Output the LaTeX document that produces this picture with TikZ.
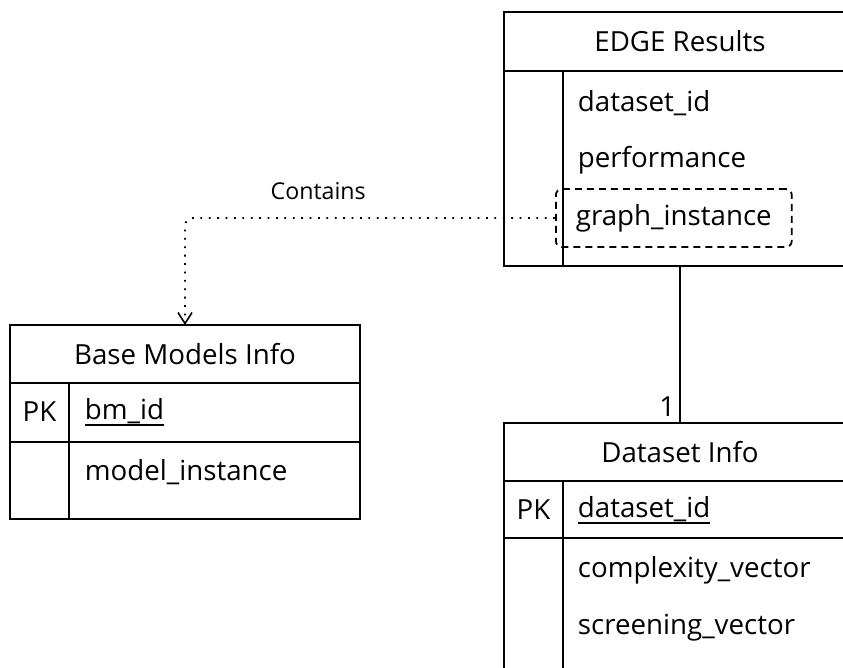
\documentclass[tikz,border=0pt]{standalone}
\usepackage{fontspec}
\setmainfont{Open Sans}
\usetikzlibrary{arrows.meta}
\newcommand\fieldfont{\fontsize{27.7}{32}\selectfont}
\newcommand\relfont{\fontsize{23.2}{27}\selectfont}
\newcommand\keyul[1]{\setbox0\hbox{#1}\rlap{\rule[-6.6pt]{\wd0}{1.7pt}}\box0}
\tikzset{
  tabhead/.style={draw, minimum width=352pt, minimum height=59pt, inner sep=0pt, outer sep=0pt},
  tabbody/.style={draw, minimum width=352pt, inner sep=0pt, outer sep=0pt},
  field/.style={anchor=west, inner sep=0pt},
  pkmark/.style={inner sep=0pt},
  keybox/.style={draw, dash pattern=on 7pt off 5pt, rounded corners=6pt},
  refline/.style={dash pattern=on 1.8pt off 6.6pt, rounded corners=8pt,
    -{Straight Barb[length=11pt,width=14pt,line width=1.6pt]}},
}
\begin{document}
\begin{tikzpicture}[x=1pt, y=-1pt, line width=1.8pt, every node/.style={font=\fieldfont}]
\clip (0,0) rectangle (843,667);
% EDGE Results
\node[tabhead] (edgehead) at (680,41.5) {EDGE Results};
\node[tabbody, minimum height=195pt, anchor=north] (edgebody) at (edgehead.south) {};
\draw ([xshift=59pt]edgebody.north west) -- ([xshift=59pt]edgebody.south west);
\node[field] (edgeds) at (577,103) {dataset\_id};
\node[field] (edgeperf) at (577,160) {performance};
\node[field, keybox, inner xsep=20pt, minimum height=58pt] (edgegi) at (555,218) {graph\_instance};
% Dataset Info
\node[tabhead, minimum height=58pt] (dshead) at (680,452) {Dataset Info};
\node[tabbody, minimum height=57pt, anchor=north] (dspk) at (dshead.south) {};
\node[tabbody, minimum height=200pt, anchor=north] (dsbody) at (dspk.south) {};
\draw ([xshift=59pt]dspk.north west) -- ([xshift=59pt]dsbody.south west);
\node[pkmark] (dspkl) at (533.5,509.5) {PK};
\node[field] (dsid) at (577,510) {\keyul{dataset\_id}};
\node[field] (dscv) at (577,570) {complexity\_vector};
\node[field] (dssv) at (577,628) {screening\_vector};
% Base Models Info
\node[tabhead, minimum width=350pt, minimum height=58pt] (bmhead) at (185,354) {Base Models Info};
\node[tabbody, minimum width=350pt, minimum height=59pt, anchor=north] (bmpk) at (bmhead.south) {};
\node[tabbody, minimum width=350pt, minimum height=77pt, anchor=north] (bmbody) at (bmpk.south) {};
\draw ([xshift=59pt]bmpk.north west) -- ([xshift=59pt]bmbody.south west);
\node[pkmark] (bmpkl) at (39.5,412) {PK};
\node[field] (bmid) at (84,412) {\keyul{bm\_id}};
\node[field] (bminst) at (84,472) {model\_instance};
% relations
\draw (edgebody.south) -- node[pos=1, anchor=south east, inner xsep=4pt, inner ysep=6pt] (onelbl) {1} (dshead.north);
\draw[refline] (edgegi.west) -| node[pos=0.32, above=14pt, font=\relfont] (containslbl) {Contains} (bmhead.north);
\end{tikzpicture}
\end{document}
